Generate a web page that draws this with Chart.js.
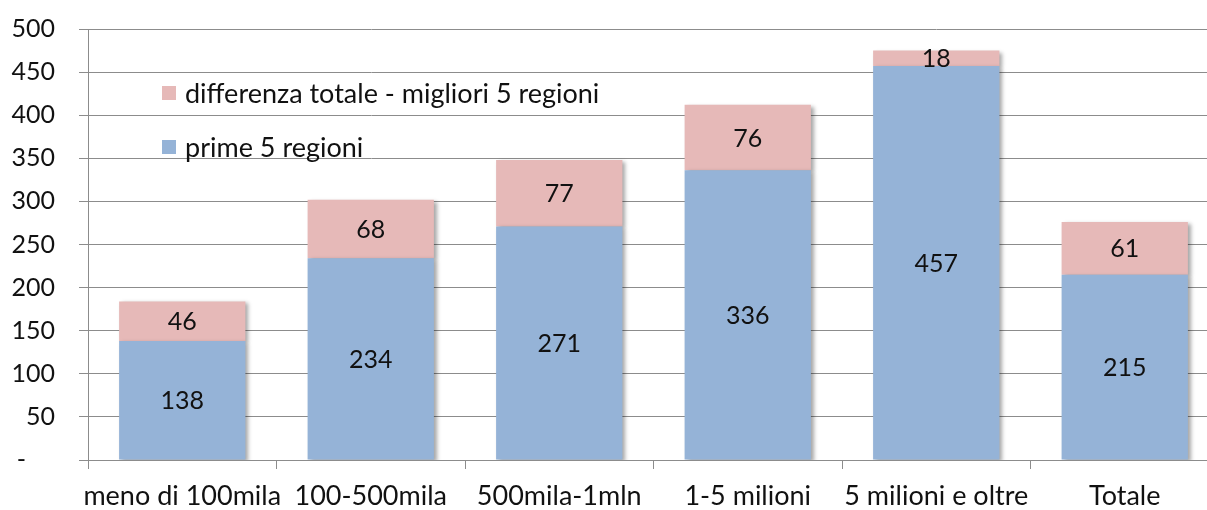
<!DOCTYPE html>
<html>
<head>
<meta charset="utf-8">
<script src="https://cdn.jsdelivr.net/npm/chart.js@4"></script>
<style>
  html, body { margin: 0; padding: 0; background: #fff; overflow: hidden; }
  #wrap { width: 1220px; height: 510px; position: relative; }
</style>
</head>
<body>
<div id="wrap"><canvas id="chart"></canvas></div>
<script>
// data
const categories = ['meno di 100mila', '100-500mila', '500mila-1mln', '1-5 milioni', '5 milioni e oltre', 'Totale'];
const top5 = [138, 234, 271, 336, 457, 215];
const diffTotal = [46, 68, 77, 76, 18, 61];
const seriesNames = ['prime 5 regioni', 'differenza totale - migliori 5 regioni'];
const yTicks = [0, 50, 100, 150, 200, 250, 300, 350, 400, 450, 500];

const FONT = 'Lato, "DejaVu Sans", sans-serif';
const BLUE = '#95b3d7';
const PINK = '#e6b9b8';
const GRID = '#8c8c8c';

// soft shadow on the right/bottom of the bars, like the Excel original
const barShadow = {
    id: 'barShadow',
    beforeDatasetDraw(chart) {
        const c = chart.ctx;
        c.save();
        c.shadowColor = 'rgba(0,0,0,0.35)';
        c.shadowBlur = 4;
        c.shadowOffsetX = 3;
        c.shadowOffsetY = 2;
    },
    afterDatasetDraw(chart) {
        chart.ctx.restore();
    }
};

// values written in the middle of each segment
const segmentLabels = {
    id: 'segmentLabels',
    afterDatasetsDraw(chart) {
        const c = chart.ctx;
        c.save();
        c.font = '25px ' + FONT;
        c.fillStyle = '#111';
        c.textAlign = 'center';
        c.textBaseline = 'middle';
        chart.data.datasets.forEach((ds, i) => {
            chart.getDatasetMeta(i).data.forEach((bar, j) => {
                const mid = (bar.y + bar.base) / 2;
                c.fillText(ds.data[j], bar.x, mid + 1);
            });
        });
        c.restore();
    }
};

// legend drawn inside the plot area, top-left
const innerLegend = {
    id: 'innerLegend',
    afterDraw(chart) {
        const c = chart.ctx;
        const a = chart.chartArea;
        const items = [
            { text: seriesNames[1], color: PINK },
            { text: seriesNames[0], color: BLUE }
        ];
        c.save();
        c.font = '27px ' + FONT;
        c.textBaseline = 'middle';
        items.forEach((it, k) => {
            const y = a.top + 64 + k * 54;
            c.fillStyle = it.color;
            c.fillRect(a.left + 74, y - 7, 14, 14);
            c.fillStyle = '#111';
            c.fillText(it.text, a.left + 97, y + 1);
        });
        c.restore();
    }
};

const ctx = document.getElementById('chart').getContext('2d');
const chart = new Chart(ctx, {
    type: 'bar',
    data: {
        labels: categories,
        datasets: [
            { label: seriesNames[0], data: top5, backgroundColor: BLUE, borderWidth: 0 },
            { label: seriesNames[1], data: diffTotal, backgroundColor: PINK, borderWidth: 0 }
        ]
    },
    options: {
        responsive: true,
        maintainAspectRatio: false,
        animation: false,
        layout: { padding: { top: 29, right: 1, bottom: 0, left: 0 } },
        datasets: { bar: { barPercentage: 0.67, categoryPercentage: 1 } },
        scales: {
            x: {
                stacked: true,
                afterFit: s => { s.height = 50; s.paddingLeft = 0; s.paddingRight = 0; },
                grid: { display: true, drawOnChartArea: false, drawTicks: true, tickLength: 9, color: GRID },
                border: { display: true, color: GRID },
                ticks: {
                    color: '#111',
                    font: { family: FONT, size: 27, lineHeight: 1 },
                    padding: 14,
                    maxRotation: 0,
                    minRotation: 0,
                    autoSkip: false
                }
            },
            y: {
                stacked: true,
                min: 0,
                max: 500,
                afterFit: s => { s.width = 88; s.paddingTop = 0; s.paddingBottom = 0; },
                afterBuildTicks: s => { s.ticks = yTicks.map(v => ({ value: v })); },
                grid: { color: GRID, tickLength: 9 },
                border: { display: true, color: GRID },
                ticks: {
                    color: '#111',
                    font: { family: FONT, size: 25, lineHeight: 1 },
                    padding: 24,
                    // Excel shows zero as a dash, set in from the right edge
                    callback: v => (v === 0 ? '-\u2007\u2007' : v)
                }
            }
        },
        plugins: {
            legend: { display: false },
            tooltip: { enabled: false }
        }
    },
    plugins: [barShadow, segmentLabels, innerLegend]
});
</script>
</body>
</html>
